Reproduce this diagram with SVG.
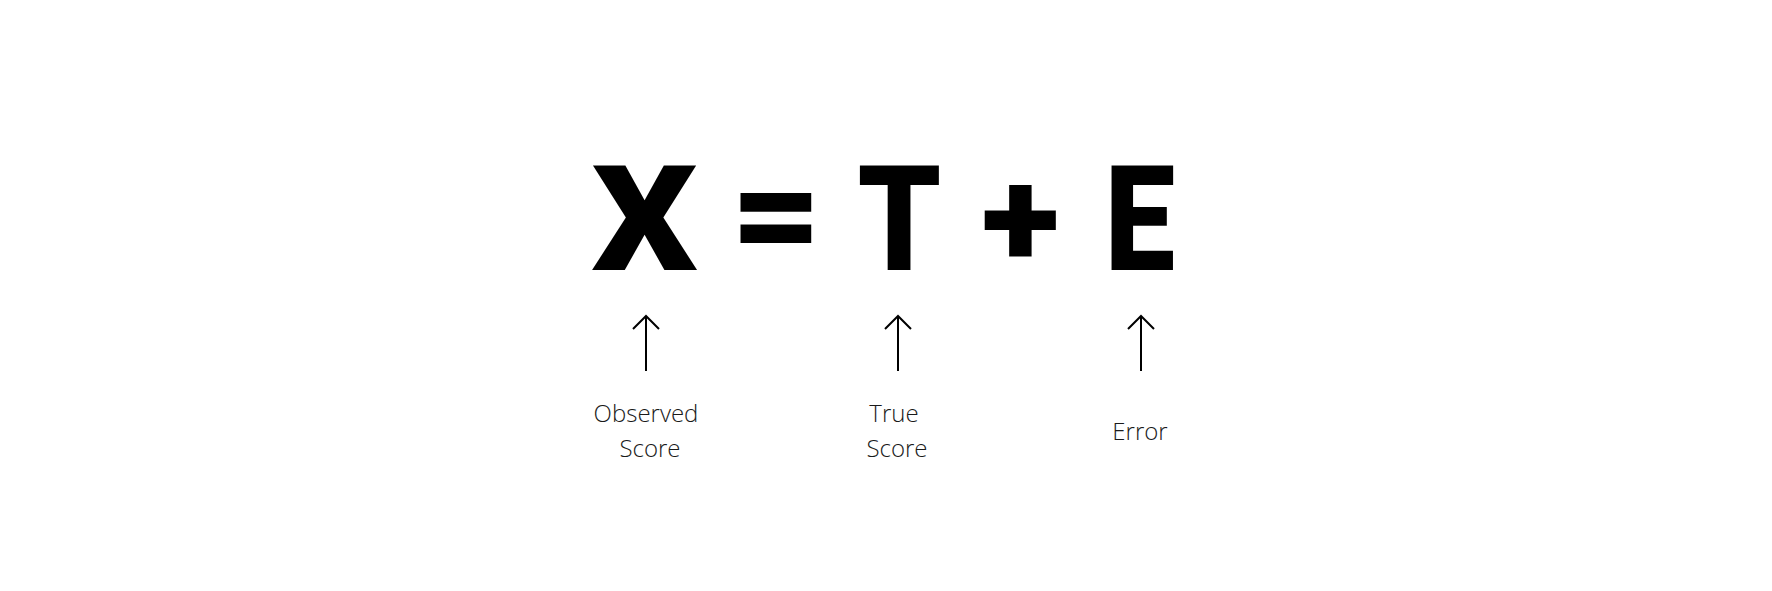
<svg xmlns="http://www.w3.org/2000/svg" width="1772" height="591" viewBox="0 0 1772 591">
<style>
.big{font-family:Roboto,"Liberation Sans",sans-serif;font-weight:900;font-size:146px;fill:#000;text-anchor:middle}
.lbl{font-family:"Open Sans","Liberation Sans",sans-serif;font-weight:300;font-size:24px;fill:#1a1a1a;text-anchor:middle}
.arr{stroke:#000;stroke-width:2;fill:none}
</style>
<rect width="1772" height="591" fill="#fff"/>
<g id="eq">
<text id="X" class="big" x="0" y="270" transform="translate(644.5 0) scale(1.134 1)">X</text>
<text id="eqsign" class="big" x="0" y="263" transform="translate(776.5 0) scale(1.07 1)">=</text>
<text id="T" class="big" x="0" y="270" transform="translate(899.5 0) scale(0.91 1)">T</text>
<text id="plus" class="big" x="0" y="0" transform="translate(1020.5 266) scale(1 0.94)">+</text>
<text id="E" class="big" x="0" y="270" transform="translate(1140 0) scale(0.86 1)">E</text>
</g>
<g id="connectors">
<path class="arr" d="M646 371V316M633 329L646 316L659 329"/>
<path class="arr" d="M898 371V316M885 329L898 316L911 329"/>
<path class="arr" d="M1141 371V316M1128 329L1141 316L1154 329"/>
</g>
<g id="observed"><text class="lbl" x="646" y="422">Observed</text><text class="lbl" x="650" y="457">Score</text></g>
<g id="true"><text class="lbl" x="894" y="422">True</text><text class="lbl" x="897" y="457">Score</text></g>
<g id="error"><text class="lbl" x="1140" y="440">Error</text></g>
</svg>
